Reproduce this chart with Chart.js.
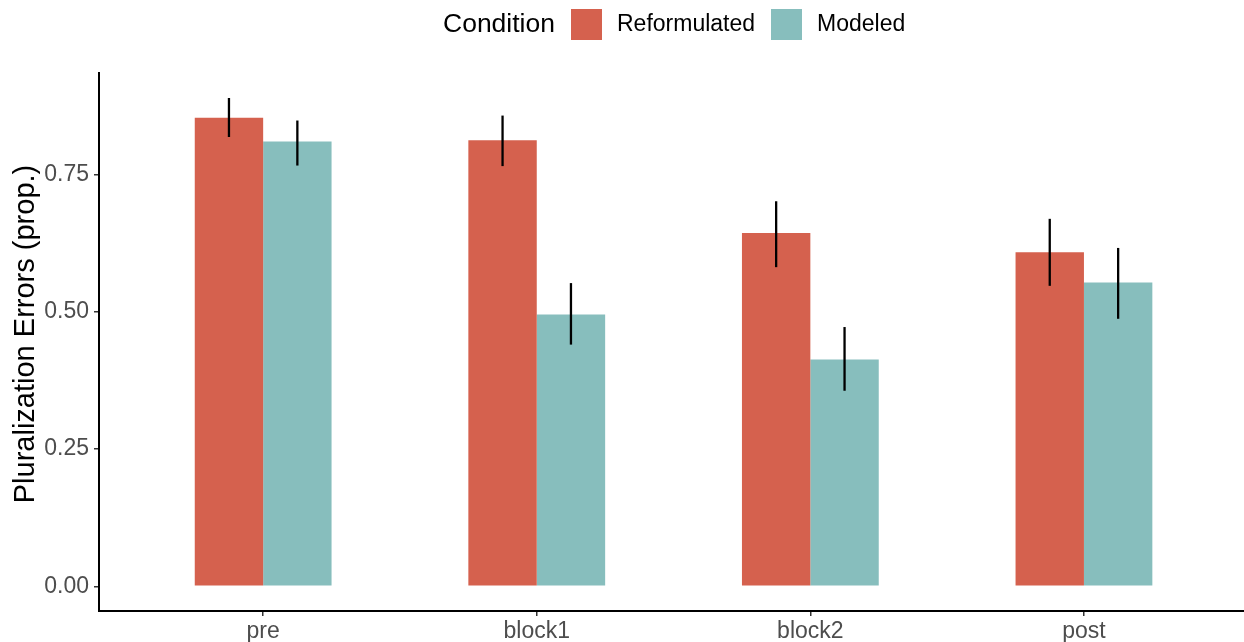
<!DOCTYPE html>
<html>
<head>
<meta charset="utf-8">
<script src="https://cdn.jsdelivr.net/npm/chart.js@4"></script>
<style>
  html, body { margin: 0; padding: 0; background: #fff; }
  #wrap { width: 1244px; height: 642px; }
</style>
</head>
<body>
<div id="wrap"><canvas id="myChart"></canvas></div>
<script>
const phases = ['pre', 'block1', 'block2', 'post'];
const seriesNames = ['Reformulated', 'Modeled'];
const reformulated = [0.853, 0.812, 0.643, 0.608];
const modeled = [0.810, 0.495, 0.413, 0.553];
const reformulatedLow = [0.818, 0.765, 0.581, 0.547];
const reformulatedHigh = [0.889, 0.857, 0.701, 0.669];
const modeledLow = [0.766, 0.440, 0.356, 0.487];
const modeledHigh = [0.848, 0.552, 0.472, 0.616];
const yTicks = [0, 0.25, 0.5, 0.75];

const FONT = '"Liberation Sans", Arial, sans-serif';
const colors = ['rgb(213,97,78)', 'rgb(135,190,189)'];

const toPoints = arr => arr.map((v, i) => ({x: i + 1, y: v}));

const data = {
  datasets: [
    {
      label: seriesNames[0],
      data: toPoints(reformulated),
      errLow: reformulatedLow,
      errHigh: reformulatedHigh,
      backgroundColor: colors[0],
      borderWidth: 0,
      categoryPercentage: 0.5,
      barPercentage: 1
    },
    {
      label: seriesNames[1],
      data: toPoints(modeled),
      errLow: modeledLow,
      errHigh: modeledHigh,
      backgroundColor: colors[1],
      borderWidth: 0,
      categoryPercentage: 0.5,
      barPercentage: 1
    }
  ]
};

// vertical error bars, drawn through the y scale
const errorBars = {
  id: 'errorBars',
  afterDatasetsDraw(chart) {
    const {ctx, scales: {y}} = chart;
    ctx.save();
    ctx.strokeStyle = '#000';
    ctx.lineWidth = 2.3;
    chart.data.datasets.forEach((ds, i) => {
      chart.getDatasetMeta(i).data.forEach((bar, j) => {
        ctx.beginPath();
        ctx.moveTo(bar.x, y.getPixelForValue(ds.errLow[j]));
        ctx.lineTo(bar.x, y.getPixelForValue(ds.errHigh[j]));
        ctx.stroke();
      });
    });
    ctx.restore();
  }
};

// ggplot style legend on top, plus the y title
const topLegend = {
  id: 'topLegend',
  afterDraw(chart) {
    const {ctx} = chart;
    ctx.save();
    ctx.textBaseline = 'middle';
    ctx.fillStyle = '#000';
    ctx.font = '26.5px ' + FONT;
    ctx.fillText('Condition', 443, 25);
    const boxX = [571, 771];
    chart.data.datasets.forEach((ds, i) => {
      ctx.fillStyle = ds.backgroundColor;
      ctx.fillRect(boxX[i], 9, 31, 31);
      ctx.fillStyle = '#000';
      ctx.font = '23px ' + FONT;
      ctx.fillText(ds.label, boxX[i] + 46, 25);
    });

    ctx.translate(26, 334);
    ctx.rotate(-Math.PI / 2);
    ctx.textAlign = 'center';
    ctx.font = '29px ' + FONT;
    ctx.fillText('Pluralization Errors (prop.)', 0, 0);
    ctx.restore();
  }
};

const config = {
  type: 'bar',
  data,
  options: {
    responsive: true,
    maintainAspectRatio: false,
    animation: false,
    layout: { padding: { top: 73, right: 0, left: 0, bottom: 0 } },
    plugins: {
      legend: { display: false },
      tooltip: { enabled: false }
    },
    scales: {
      x: {
        type: 'linear',
        min: 0.4,
        max: 4.585,
        offset: false,
        afterBuildTicks: scale => { scale.ticks = phases.map((p, i) => ({value: i + 1})); },
        afterFit: scale => { scale.height = 31; },
        border: { display: true, color: '#000', width: 2 },
        grid: { drawOnChartArea: false, drawTicks: true, tickLength: 5, color: '#333', lineWidth: 1.5, offset: false },
        ticks: {
          autoSkip: false,
          maxRotation: 0,
          padding: 2,
          color: '#4d4d4d',
          font: { family: FONT, size: 23 },
          callback: v => phases[v - 1]
        }
      },
      y: {
        min: -0.045,
        max: 0.9345,
        afterBuildTicks: scale => { scale.ticks = yTicks.map(v => ({value: v})); },
        afterFit: scale => { scale.width = 99; },
        border: { display: true, color: '#000', width: 2 },
        grid: { drawOnChartArea: false, drawTicks: true, tickLength: 5, color: '#333', lineWidth: 1.5 },
        ticks: {
          padding: 5,
          color: '#4d4d4d',
          font: { family: FONT, size: 23 },
          callback: v => v.toFixed(2)
        }
      }
    }
  },
  plugins: [errorBars, topLegend]
};

const myChart = new Chart(document.getElementById('myChart'), config);
</script>
</body>
</html>
